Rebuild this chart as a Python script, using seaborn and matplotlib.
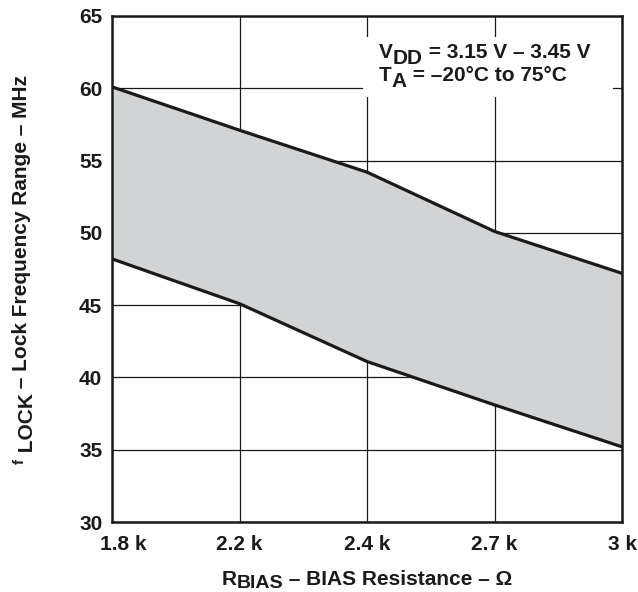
import matplotlib
matplotlib.use("Agg")
import matplotlib.pyplot as plt
import matplotlib.transforms as mtransforms
from matplotlib.patches import Rectangle
import seaborn as sns
import numpy as np
import pandas as pd

categories = ["1.8 k", "2.2 k", "2.4 k", "2.7 k", "3 k"]
upper_mhz = [60.1, 57.1, 54.2, 50.1, 47.2]
lower_mhz = [48.2, 45.1, 41.1, 38.1, 35.2]
y_ticks = [30, 35, 40, 45, 50, 55, 60, 65]

sns.set_theme(style="white")
plt.rcParams['font.family'] = ['Liberation Sans', 'DejaVu Sans']
plt.rcParams['font.weight'] = 'bold'

INK = "#1a1a1a"
W, H = 638, 592

pos = np.arange(len(categories))
df = pd.DataFrame({"pos": np.concatenate([pos, pos]),
                   "mhz": upper_mhz + lower_mhz,
                   "bound": ["upper"] * len(pos) + ["lower"] * len(pos)})

fig = plt.figure(figsize=(W / 100, H / 100), dpi=100)
ax = fig.add_axes([112 / W, 1 - 522 / H, (622 - 112) / W, (522 - 16) / H])

ax.fill_between(pos, lower_mhz, upper_mhz, color="#d2d3d5", zorder=2, linewidth=0)
sns.lineplot(data=df, x="pos", y="mhz", units="bound", estimator=None,
             color=INK, linewidth=2.3, ax=ax, zorder=4, legend=False)

ax.set_xlim(0, len(categories) - 1)
ax.set_ylim(30, 65)
ax.set_xticks(pos)
ax.set_xticklabels(categories)
ax.set_yticks(y_ticks)
ax.grid(True, color=INK, linewidth=0.9, zorder=1)
ax.set_axisbelow(True)
for s in ax.spines.values():
    s.set_color(INK)
    s.set_linewidth(1.8)
    s.set_zorder(5)
ax.tick_params(axis="both", length=0, labelsize=15, colors=INK, pad=7)
ax.tick_params(axis="x", pad=9)
for lab in ax.get_xticklabels() + ax.get_yticklabels():
    lab.set_fontweight("bold")
first = ax.get_xticklabels()[0]
first.set_transform(first.get_transform() +
                    mtransforms.ScaledTranslation(0.11, 0, fig.dpi_scale_trans))
ax.set_xlabel("")
ax.set_ylabel("")

# white box behind the condition annotation
ax.add_patch(Rectangle((0.492, 0.840), 0.490, 0.118, transform=ax.transAxes,
                       facecolor="white", edgecolor="none", zorder=5.5))

ident = mtransforms.IdentityTransform()


def rich(pieces, x, y, rotation=0, align="left"):
    """pieces: (text, size, shift_down_px). x,y in display pixels.
    rotation 0: (x, y) = start/center x, baseline y.
    rotation 90: x = baseline x, y = start/center along vertical."""
    texts = []
    for s, size, dy in pieces:
        t = fig.text(0, 0, s, fontsize=size, fontweight="bold", color=INK,
                     transform=ident, ha="left", va="baseline",
                     rotation=rotation, rotation_mode="anchor", zorder=7)
        texts.append(t)
    r = fig.canvas.get_renderer()
    lens = []
    for t in texts:
        e = t.get_window_extent(r)
        lens.append(e.width if rotation == 0 else e.height)
    total = sum(lens)
    start = (x if rotation == 0 else y)
    if align == "center":
        start -= total / 2
    for t, L, (s, size, dy) in zip(texts, lens, pieces):
        if rotation == 0:
            t.set_position((start, y - dy))
        else:
            t.set_position((x + dy, start))
        start += L


# x label
rich([("R", 15, 0), ("BIAS", 14, 3), (" – BIAS Resistance – Ω", 15, 0)],
     367, H - 585, align="center")
# y label
rich([("f", 11, -3), (" LOCK", 15, 6), (" – Lock Frequency Range – MHz", 15, 0)],
     27, H - 269, rotation=90, align="center")
# conditions
rich([("V", 15, 0), ("DD", 15, 6), (" = 3.15 V – 3.45 V", 15, 0)], 379, H - 58)
rich([("T", 15, 0), ("A", 15, 6), (" = –20°C to 75°C", 15, 0)], 379, H - 81)

fig.savefig("out.png", dpi=100)
